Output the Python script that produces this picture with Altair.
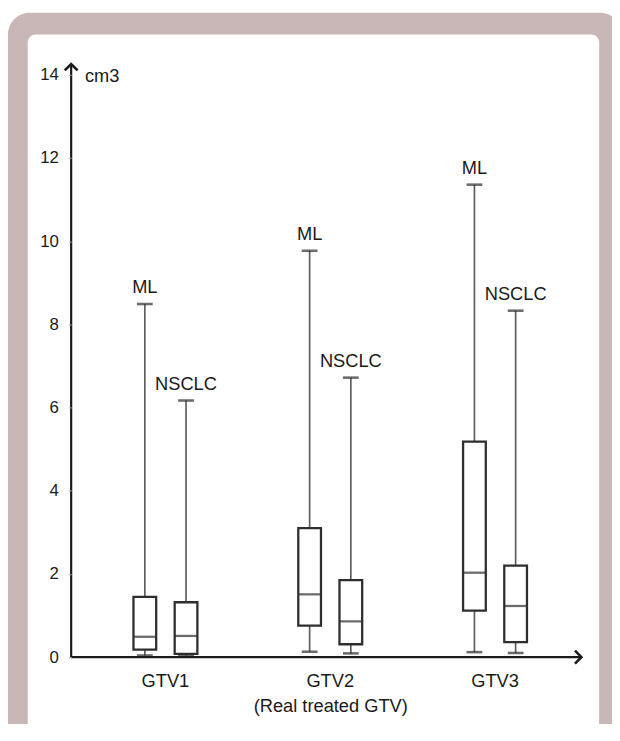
import altair as alt
import pandas as pd

# ---- data ----
groups = ["GTV1", "GTV1", "GTV2", "GTV2", "GTV3", "GTV3"]
series = ["ML", "NSCLC", "ML", "NSCLC", "ML", "NSCLC"]
whisker_low = [0.04, 0.04, 0.13, 0.09, 0.12, 0.10]
q1 = [0.18, 0.08, 0.76, 0.31, 1.12, 0.36]
median = [0.49, 0.51, 1.51, 0.86, 2.03, 1.23]
q3 = [1.45, 1.32, 3.10, 1.85, 5.18, 2.20]
whisker_high = [8.49, 6.17, 9.77, 6.72, 11.36, 8.33]
y_ticks = [0, 2, 4, 6, 8, 10, 12, 14]

df = pd.DataFrame({
    "group": groups, "series": series, "lo": whisker_low, "q1": q1,
    "med": median, "q3": q3, "hi": whisker_high,
})

FONT = "Liberation Sans"
INK = "#1a1a1a"
PINK = "#c9b7b7"

W, H = 525, 590
PAD_L, PAD_T = 64, 63
TOTAL_W, TOTAL_H = 612, 716

x_enc = alt.X("group:N", title="(Real treated GTV)",
              scale=alt.Scale(paddingInner=0, paddingOuter=0.072),
              axis=alt.Axis(domain=False, ticks=False, labelAngle=0, zindex=2,
                            labelFontSize=18.5, labelFont=FONT, labelColor=INK,
                            labelPadding=15, titleFontSize=18.5, titleFont=FONT,
                            titleFontWeight="normal", titleColor=INK, titlePadding=7))
xo_enc = alt.XOffset("series:N", scale=alt.Scale(paddingInner=0, paddingOuter=1))
y_scale = alt.Scale(domain=[0, 14], nice=False)

one = alt.Data(values=[{"a": 1}])

frame = alt.Chart(one).mark_rect(color=PINK, cornerRadius=22).encode(
    x=alt.value(-PAD_L), x2=alt.value(TOTAL_W - PAD_L + 10),
    y=alt.value(-PAD_T), y2=alt.value(TOTAL_H))
panel = alt.Chart(one).mark_rect(color="white", cornerRadius=8).encode(
    x=alt.value(-44), x2=alt.value(535),
    y=alt.value(-41), y2=alt.value(TOTAL_H))

base = alt.Chart(df).encode(x=x_enc, xOffset=xo_enc)

whisk = base.mark_rule(color="#5e5e5e", strokeWidth=1.7).encode(
    y=alt.Y("lo:Q", scale=y_scale, title=None,
            axis=alt.Axis(values=y_ticks, domain=False, grid=False, tickColor="#b0b0b0",
                          tickSize=3, labelFontSize=17, labelFont=FONT, labelColor=INK,
                          labelPadding=10, zindex=2)),
    y2="hi:Q")
caps_lo = base.mark_tick(color="#2e2e2e", size=16, thickness=2.6).encode(
    y=alt.Y("lo:Q", scale=y_scale))
caps_hi = base.mark_tick(color="#2e2e2e", size=16, thickness=2.6).encode(
    y=alt.Y("hi:Q", scale=y_scale))
box = base.mark_bar(size=23, fill="white", stroke="#2e2e2e", strokeWidth=2.3).encode(
    y=alt.Y("q1:Q", scale=y_scale), y2="q3:Q")
med = base.mark_tick(color="#2e2e2e", size=23, thickness=2.3).encode(
    y=alt.Y("med:Q", scale=y_scale))
labels = base.mark_text(font=FONT, fontSize=18.5, color=INK, dy=-17).encode(
    y=alt.Y("hi:Q", scale=y_scale), text="series:N")

# axis lines with arrow heads
y_line = alt.Chart(one).mark_rule(color=INK, strokeWidth=2.2).encode(
    x=alt.value(0), y=alt.value(-11), y2=alt.value(H))
x_line = alt.Chart(one).mark_rule(color=INK, strokeWidth=2.2).encode(
    x=alt.value(0), x2=alt.value(517), y=alt.value(H))
y_head = alt.Chart(one).mark_point(shape="M-1,1L0,0L1,1", size=170, filled=False,
                                   stroke=INK, strokeWidth=2.6, opacity=1).encode(
    x=alt.value(0), y=alt.value(-11))
x_head = alt.Chart(one).mark_point(shape="M-1,-1L0,0L-1,1", size=170, filled=False,
                                   stroke=INK, strokeWidth=2.6, opacity=1).encode(
    x=alt.value(517), y=alt.value(H))
unit = alt.Chart(one).mark_text(text="cm3", font=FONT, fontSize=18.5, color=INK,
                                align="left", baseline="middle").encode(
    x=alt.value(14), y=alt.value(1))

chart = alt.layer(frame, panel, whisk, caps_lo, caps_hi, box, med, labels,
                  y_line, x_line, y_head, x_head, unit).properties(
    width=W, height=H,
    autosize=alt.AutoSizeParams(type="none"),
    padding={"left": PAD_L, "top": PAD_T,
             "right": TOTAL_W - PAD_L - W, "bottom": TOTAL_H - PAD_T - H},
    background="white",
).configure_view(stroke=None)

chart.save("out.html", embed_options={"renderer": "svg", "actions": False})
